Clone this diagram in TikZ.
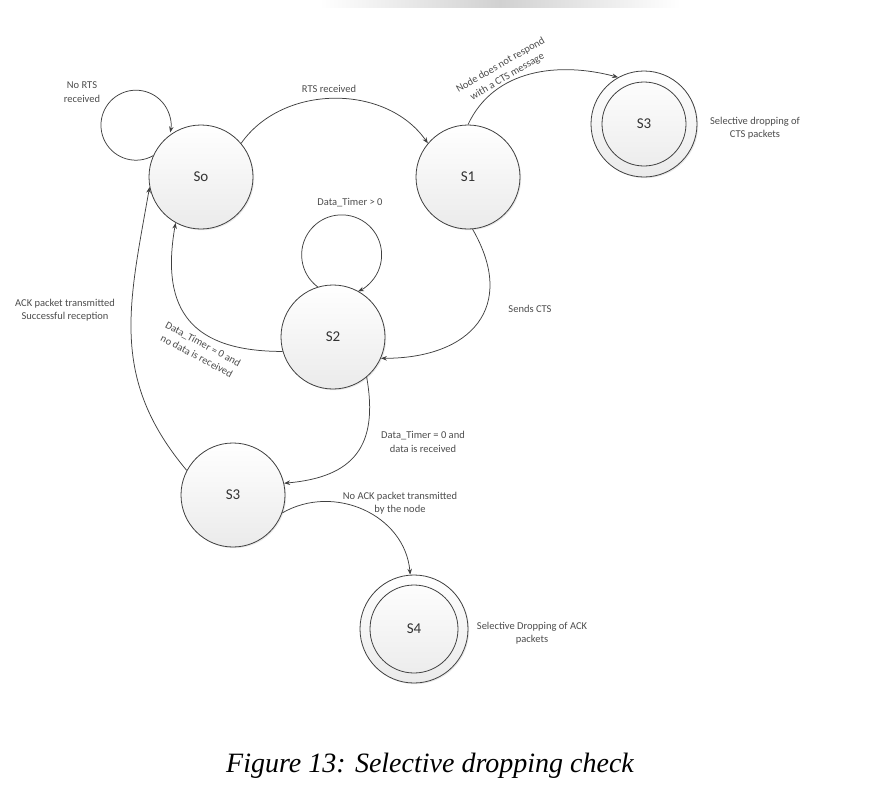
\documentclass[tikz,border=0pt]{standalone}
\usepackage{fontspec}
\setmainfont{Liberation Serif}
\newfontfamily\lblfont{Carlito}
\usetikzlibrary{arrows.meta,shadows}

\begin{document}
\begin{tikzpicture}[x=1pt,y=-1pt,
  state/.style={circle, minimum size=104pt, inner sep=0pt, draw=black!75,
    line width=0.8pt, top color=white, bottom color=black!8,
    drop shadow={opacity=0.18, shadow xshift=1.2pt, shadow yshift=-1.2pt},
    font=\lblfont\fontsize{15}{18}\selectfont, text=black!80},
  final/.style={state, minimum size=106pt},
  ring/.style={draw=black!75, line width=0.8pt},
  trans/.style={draw=black!75, line width=0.75pt, -{Stealth[length=6pt,width=4.5pt]}},
  lbl/.style={font=\lblfont\fontsize{10.5}{13.5}\selectfont, text=black!70,
    align=center, inner sep=0pt},
  captionstyle/.style={font=\itshape\fontsize{28}{32}\selectfont, text=black},
]
\useasboundingbox (0,0) rectangle (896,798);

% faint band along the top edge
\shade[left color=white, right color=white, middle color=black!18] (320,0) rectangle (680,7);

% states
\node[state] (S0) at (201,177) {So};
\node[state] (S1) at (468,177) {S1};
\node[final] (S3a) at (644,124) {S3};
\node[state] (S2) at (333,337) {S2};
\node[state] (S3b) at (233,495) {S3};
\node[final, minimum size=108pt] (S4) at (414,629) {S4};

% inner rings of the final states
\draw[ring] (S3a.center) circle[radius=42pt];
\draw[ring] (S4.center) circle[radius=44pt];

% self loops
\draw[trans] (S0.156) arc[start angle=-60.6, end angle=-372, radius=35pt];
\draw[trans] (S2.107) arc[start angle=233.2, end angle=-66, radius=40pt];

% transitions
\draw[trans] (S0.40) to[out=55,in=125] (S1.140);
\draw[trans] (S1.90) to[out=65,in=165] (S3a.119);
\draw[trans] (S1.-85) .. controls +(-60:90pt) and +(0:90pt) .. (S2.-24);
\draw[trans] (S2.196) .. controls +(180:90pt) and +(-100:90pt) .. (S0.241);
\draw[trans] (S2.-50) .. controls +(-80:70pt) and +(5:70pt) .. (S3b.13);
\draw[trans] (S3b.152) .. controls +(130:120pt) and +(-100:120pt) .. (S0.191);
\draw[trans] (S3b.-20) .. controls +(30:60pt) and +(95:60pt) .. (S4.94);

% transition labels
\node[lbl] (l0) at (82,92) {No RTS\\received};
\node[lbl] (l1) at (329,89) {RTS received};
\node[lbl, rotate=30] (l2) at (504,71) {Node does not respond\\with a CTS message};
\node[lbl] (l3) at (350,203) {Data\_Timer > 0};
\node[lbl] (l4) at (530,309) {Sends CTS};
\node[lbl, rotate=-28] (l5) at (200,350) {Data\_Timer = 0 and\\no data is received};
\node[lbl] (l6) at (423,442) {Data\_Timer = 0 and\\data is received};
\node[lbl] (l7) at (65,310) {ACK packet transmitted\\Successful reception};
\node[lbl] (l8) at (400,503) {No ACK packet transmitted\\by the node};
\node[lbl] (l9) at (755,128) {Selective dropping of\\CTS packets};
\node[lbl] (l10) at (532,633) {Selective Dropping of ACK\\packets};

% caption
\node[captionstyle] (cap) at (430,766) {Figure 13: Selective dropping check};
\end{tikzpicture}
\end{document}
